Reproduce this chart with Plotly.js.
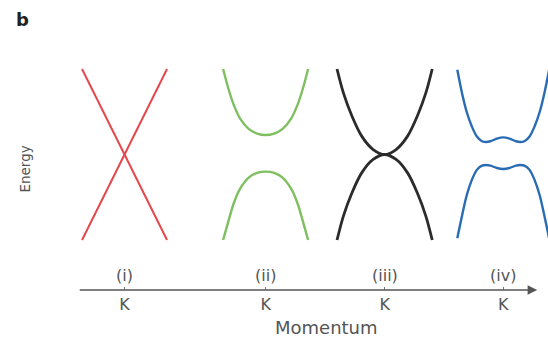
<!DOCTYPE html>
<html>
<head>
<meta charset="utf-8">
<script src="https://cdn.plot.ly/plotly-3.0.1.min.js"></script>
<style>
  html, body { margin: 0; padding: 0; background: #ffffff; }
  #chart { width: 548px; height: 337px; }
</style>
</head>
<body>
<div id="chart"></div>
<script>
// Four schematic band structures near the K point.
const panelLabels = ['(i)', '(ii)', '(iii)', '(iv)'];
const kPointLabel = 'K';
const kCenters = [2.93, 6.25, 9.05, 11.84];   // momentum of each K point

// (i) linear Dirac cone
const coneK = [-1.0, 1.0];
const coneUp = [-1.0, 1.0];
const coneDown = [1.0, -1.0];

// (ii) gapped bands
const gapK = [-1.0, -0.87, -0.75, -0.6, -0.4, -0.2, 0, 0.2, 0.4, 0.6, 0.75, 0.87, 1.0];
const gapCond = [1.0, 0.76, 0.58, 0.42, 0.30, 0.245, 0.228, 0.245, 0.30, 0.42, 0.58, 0.76, 1.0];
const gapVal = [-1.0, -0.77, -0.57, -0.40, -0.27, -0.215, -0.2, -0.215, -0.27, -0.40, -0.57, -0.77, -1.0];

// (iii) quadratic band touching
const quadK = [-1.12, -0.97, -0.77, -0.54, -0.27, 0, 0.27, 0.54, 0.77, 0.97, 1.12];
const quadCond = [1.0, 0.72, 0.45, 0.215, 0.058, 0, 0.058, 0.215, 0.45, 0.72, 1.0];
const quadVal = [-1.0, -0.72, -0.45, -0.215, -0.058, 0, -0.058, -0.215, -0.45, -0.72, -1.0];

// (iv) gapped bands with Mexican-hat shape
const hatK = [-1.08, -0.97, -0.86, -0.74, -0.62, -0.5, -0.4, -0.3, -0.15, 0,
              0.15, 0.3, 0.4, 0.5, 0.62, 0.74, 0.86, 0.97, 1.08];
const hatCond = [0.99, 0.72, 0.50, 0.33, 0.21, 0.155, 0.146, 0.155, 0.185, 0.20,
                 0.185, 0.155, 0.146, 0.155, 0.21, 0.33, 0.50, 0.72, 0.99];
const hatVal = [-0.98, -0.72, -0.48, -0.30, -0.18, -0.13, -0.123, -0.13, -0.158, -0.17,
                -0.158, -0.13, -0.123, -0.13, -0.18, -0.30, -0.48, -0.72, -0.98];

const panels = [
  { k: coneK, bands: [coneUp, coneDown], color: '#e4484d', width: 2.0, shape: 'linear' },
  { k: gapK, bands: [gapCond, gapVal], color: '#7fbf60', width: 2.4, shape: 'spline' },
  { k: quadK, bands: [quadCond, quadVal], color: '#2b2b2b', width: 2.8, shape: 'spline' },
  { k: hatK, bands: [hatCond, hatVal], color: '#2a6cb4', width: 2.4, shape: 'spline' }
];

const traces = [];
panels.forEach((p, i) => {
  p.bands.forEach(E => {
    traces.push({
      type: 'scatter',
      mode: 'lines',
      x: p.k.map(k => kCenters[i] + k),
      y: E,
      line: { color: p.color, width: p.width, shape: p.shape, smoothing: 0.9 },
      hoverinfo: 'skip',
      showlegend: false
    });
  });
});

const labelFont = { family: 'DejaVu Sans, sans-serif', size: 16, color: '#555555' };

const annotations = [
  // momentum axis with arrow head
  {
    x: 12.64, y: -1.585, xref: 'x', yref: 'y',
    ax: 1.84, ay: -1.585, axref: 'x', ayref: 'y',
    text: '', showarrow: true, arrowhead: 2, arrowsize: 1.2,
    arrowwidth: 1.6, arrowcolor: '#555555'
  },
  {
    x: 7.69, y: -0.128, xref: 'x', yref: 'paper', yanchor: 'middle', xanchor: 'center',
    text: 'Momentum', showarrow: false,
    font: { family: 'DejaVu Sans, sans-serif', size: 18, color: '#555555' }
  },
  {
    x: 0.6, y: -0.17, xref: 'x', yref: 'y', text: 'Energy',
    textangle: -90, showarrow: false,
    font: { family: 'DejaVu Sans, sans-serif', size: 13.5, color: '#555555' }
  },
  {
    x: 0.026, y: 0.975, xref: 'paper', yref: 'paper', xanchor: 'left', yanchor: 'top',
    text: '<b>b</b>', showarrow: false,
    font: { family: 'DejaVu Sans, sans-serif', size: 18, color: '#222222' }
  }
];
panelLabels.forEach((t, i) => {
  annotations.push({
    x: kCenters[i], y: -1.415, xref: 'x', yref: 'y', text: t,
    showarrow: false, font: labelFont
  });
});

const layout = {
  width: 548,
  height: 337,
  margin: { l: 0, r: 0, t: 0, b: 47 },
  paper_bgcolor: '#ffffff',
  plot_bgcolor: '#ffffff',
  xaxis: {
    range: [0, 12.894],
    showgrid: false, zeroline: false, showline: false,
    tickmode: 'array',
    tickvals: kCenters,
    ticktext: kCenters.map(() => kPointLabel),
    ticks: 'inside', ticklen: 3, tickwidth: 1, tickcolor: '#777777',
    ticklabelstandoff: 3,
    tickfont: labelFont,
    fixedrange: true
  },
  yaxis: {
    range: [-1.585, 1.807],
    visible: false,
    fixedrange: true
  },
  annotations: annotations,
  showlegend: false
};

Plotly.newPlot('chart', traces, layout, { displayModeBar: false, staticPlot: true });
</script>
</body>
</html>
